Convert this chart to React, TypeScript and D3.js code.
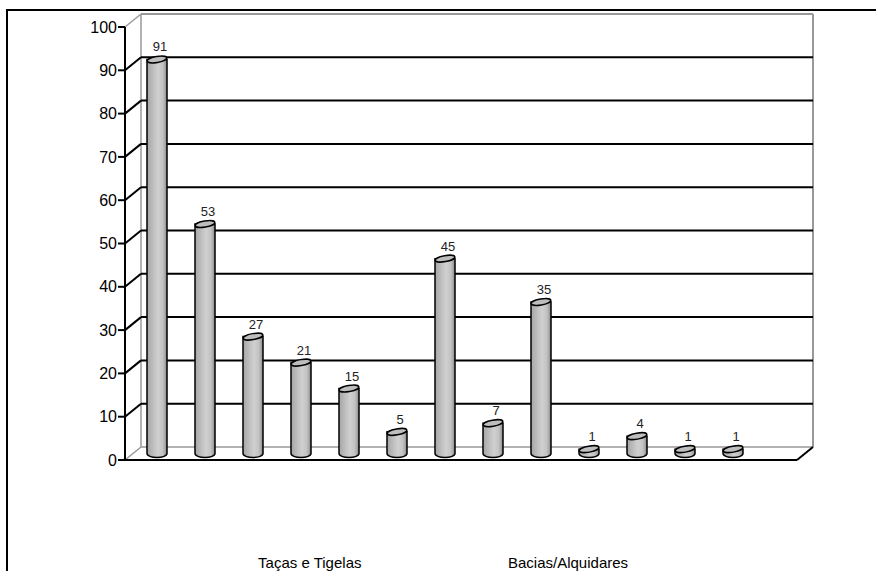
import React from "react";
import * as d3 from "d3";

const categories = ["a1","a2","a3","a4","a5","a6","a7","a8","a9","b1","b2","b3","b4",""];
const values: (number | null)[] = [91, 53, 27, 21, 15, 5, 45, 7, 35, 1, 4, 1, 1, null];
const yTicks = [0, 10, 20, 30, 40, 50, 60, 70, 80, 90, 100];
const groupLabels = ["Taças e Tigelas", "Bacias/Alquidares"];
const groupPositions = [3.85, 9.23];

export default function App() {
  const W = 876, H = 571;
  const x0 = 125, x1 = 797;
  const dx = 16, dy = -13;
  const y = d3.scaleLinear().domain([0, 100]).range([460, 27]);
  const x = d3.scaleBand<number>().domain(categories.map((_, i) => i)).range([x0, x1]).padding(0);
  const xg = d3.scaleLinear().domain([0, categories.length]).range([x0, x1]);
  const r = 10, ry = 3;
  const font = "'Liberation Sans', Arial, sans-serif";

  return (
    <svg width={W} height={H} style={{ position: "absolute", left: 0, top: 0 }}>
      <defs>
        <linearGradient id="cyl" x1="0" x2="1" y1="0" y2="0">
          <stop offset="0%" stopColor="#a6a6a6" />
          <stop offset="55%" stopColor="#d0d0d0" />
          <stop offset="80%" stopColor="#c2c2c2" />
          <stop offset="100%" stopColor="#8a8a8a" />
        </linearGradient>
      </defs>
      <rect x={0} y={0} width={W} height={H} fill="#fff" />
      <rect x={7} y={10} width={W + 20} height={H + 20} fill="none" stroke="#000" strokeWidth={2} />
      {/* back wall */}
      <line x1={x0 + dx} x2={x1 + dx} y1={y(100) + dy} y2={y(100) + dy} stroke="#999" strokeWidth={2} />
      <line x1={x1 + dx} x2={x1 + dx} y1={y(100) + dy} y2={y(0) + dy} stroke="#999" strokeWidth={2} />
      <line x1={x0 + dx} x2={x0 + dx} y1={y(100) + dy} y2={y(0) + dy} stroke="#999" strokeWidth={1.5} />
      <line x1={x0} x2={x0 + dx} y1={y(100)} y2={y(100) + dy} stroke="#999" strokeWidth={1.5} />
      <line x1={x0 + dx} x2={x1 + dx} y1={y(0) + dy} y2={y(0) + dy} stroke="#999" strokeWidth={1.5} />
      <line x1={x0} x2={x0 + dx} y1={y(0)} y2={y(0) + dy} stroke="#999" strokeWidth={1.5} />
      {/* gridlines */}
      {yTicks.filter(t => t > 0 && t < 100).map(t => (
        <g key={t}>
          <line x1={x0 + dx} x2={x1 + dx} y1={y(t) + dy} y2={y(t) + dy} stroke="#000" strokeWidth={2} />
          <line x1={x0} x2={x0 + dx} y1={y(t)} y2={y(t) + dy} stroke="#000" strokeWidth={2} />
        </g>
      ))}
      {/* floor front */}
      <line x1={x0} x2={x1} y1={y(0)} y2={y(0)} stroke="#000" strokeWidth={2} />
      <line x1={x1} x2={x1 + dx} y1={y(0)} y2={y(0) + dy} stroke="#000" strokeWidth={2} />
      {/* y axis */}
      <line x1={x0} x2={x0} y1={y(0)} y2={y(100)} stroke="#000" strokeWidth={2} />
      {yTicks.map(t => (
        <g key={t}>
          <line x1={x0 - 7} x2={x0} y1={y(t)} y2={y(t)} stroke="#000" strokeWidth={2} />
          <text x={x0 - 8} y={y(t)} dy="0.35em" textAnchor="end" fontFamily={font} fontSize={16}>{t}</text>
        </g>
      ))}
      {/* bars */}
      {values.map((v, i) => {
        if (v == null) return null;
        const cx = (x(i) as number) + x.bandwidth() / 2 + dx / 2;
        const yt = y(v) + dy / 2;
        const yb = y(0) + dy / 2;
        const body = `M${cx - r},${yt} L${cx - r},${yb} A${r},${ry + 1} 0 0 0 ${cx + r},${yb} L${cx + r},${yt} Z`;
        return (
          <g key={i}>
            <path d={body} fill="url(#cyl)" stroke="#000" strokeWidth={1.5} />
            <ellipse cx={cx} cy={yt} rx={r} ry={ry} transform={`rotate(-10 ${cx} ${yt})`} fill="#bdbdbd" stroke="#000" strokeWidth={1.5} />
            <text x={cx + 3} y={yt - 8} textAnchor="middle" fontFamily={font} fontSize={13} fill="#222">{v}</text>
          </g>
        );
      })}
      {groupLabels.map((g, i) => (
        <text key={g} x={xg(groupPositions[i])} y={568} textAnchor="middle" fontFamily={font} fontSize={15}>{g}</text>
      ))}
    </svg>
  );
}
